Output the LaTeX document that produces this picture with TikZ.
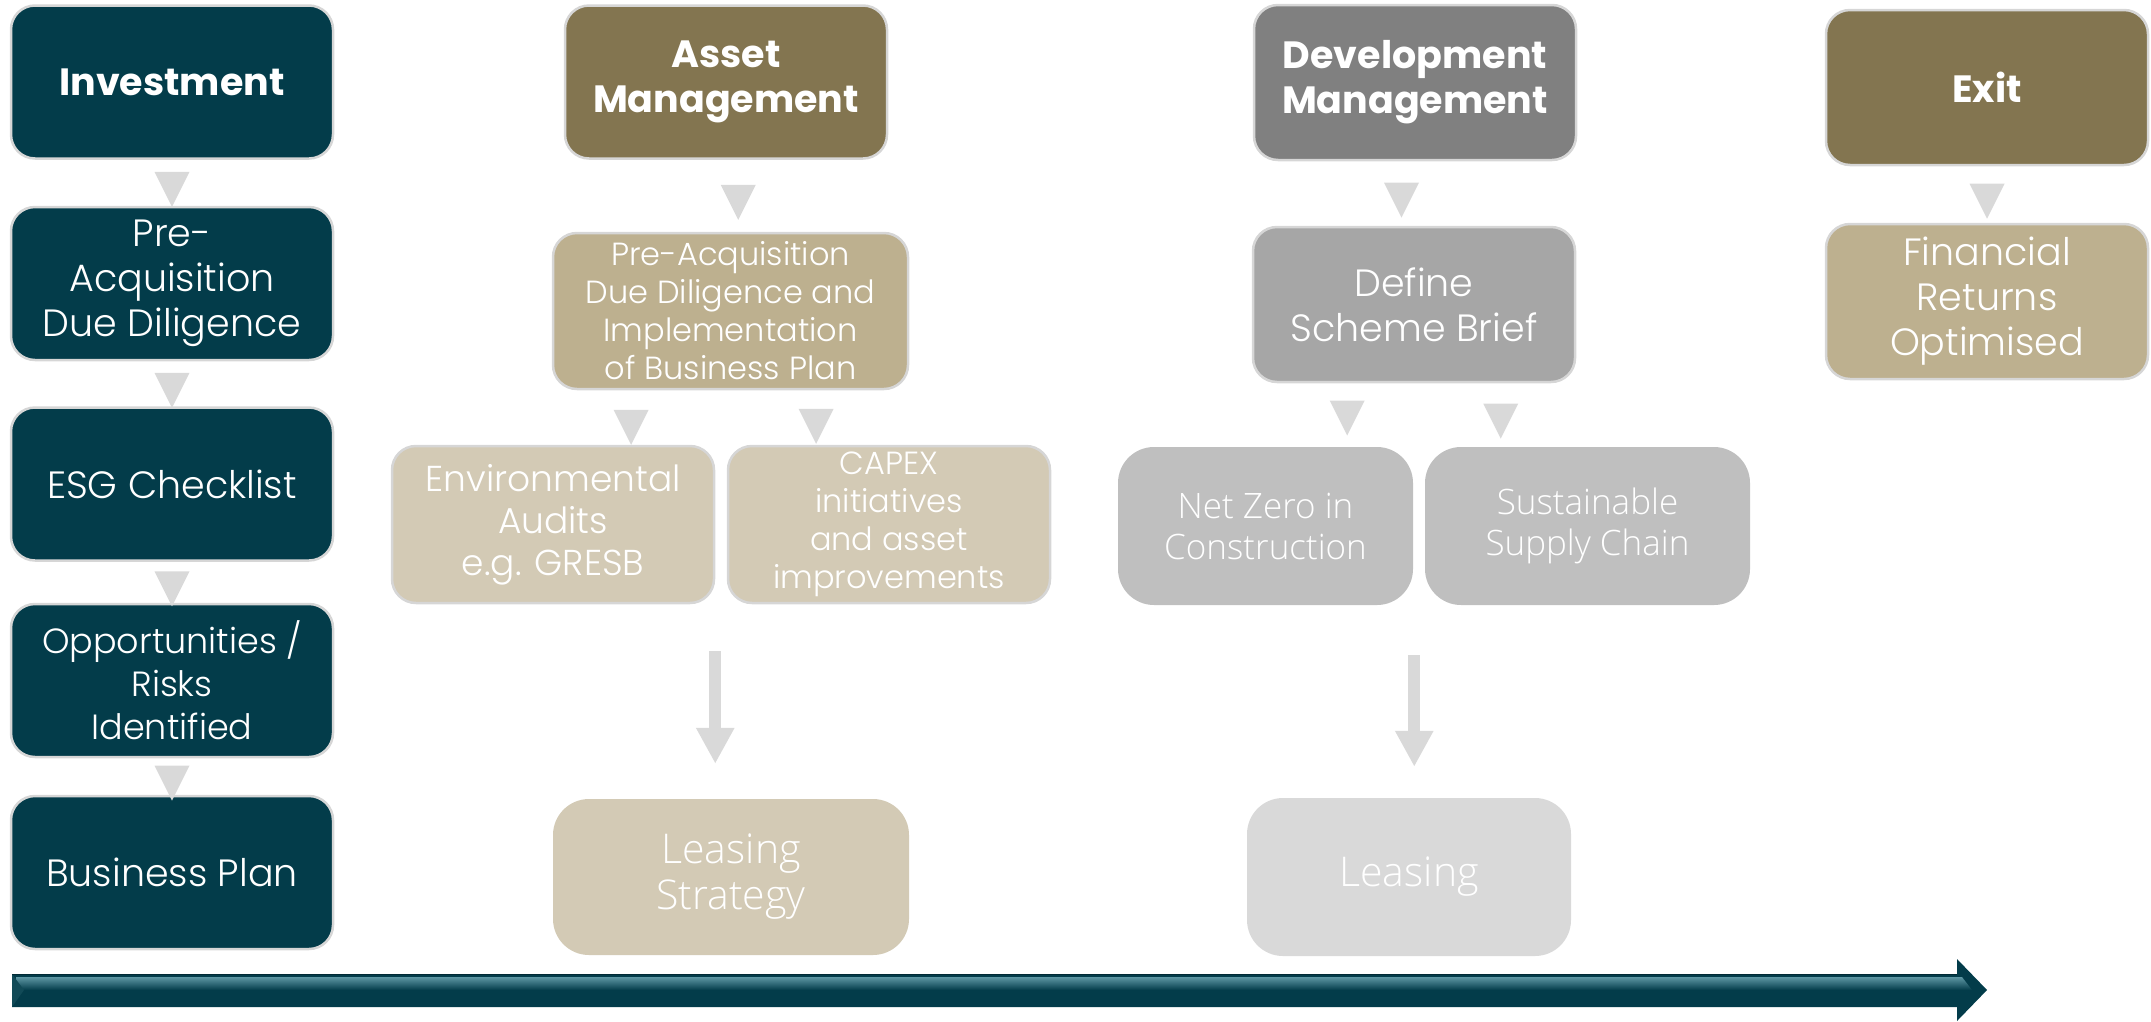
\documentclass[tikz,border=0pt]{standalone}
\usepackage{fontspec}
\setmainfont{Poppins}[UprightFont={* Light}, BoldFont={* Bold}]
\newfontfamily\plainsans{Open Sans Light}
\usepackage{xcolor}
\usetikzlibrary{arrows.meta,shapes.geometric,calc}

\definecolor{invteal}{HTML}{033C4A}
\definecolor{arrowhi}{HTML}{5E97A4}
\definecolor{amdark}{HTML}{837550}
\definecolor{amlight}{HTML}{BDB08F}
\definecolor{ampale}{HTML}{D3CAB5}
\definecolor{dmdark}{HTML}{808080}
\definecolor{dmmid}{HTML}{A6A6A6}
\definecolor{dmlight}{HTML}{BFBFBF}
\definecolor{trigray}{HTML}{D9D9D9}
\definecolor{edge}{HTML}{D6D6D6}

\begin{document}
\begin{tikzpicture}[x=1pt, y=-1pt,
    box/.style={rounded corners=24pt, draw=edge, line width=2.5pt,
        minimum width=322pt, minimum height=153pt, inner sep=0pt,
        align=center, text=white, font=\fontsize{38}{45}\selectfont},
    small/.style={font=\fontsize{32}{38}\selectfont},
    medium/.style={font=\fontsize{36}{42}\selectfont},
    title/.style={font=\fontsize{38}{45}\selectfont\bfseries},
    flat/.style={box, draw=none, rounded corners=36pt,
        font=\fontsize{35}{41}\selectfont\plainsans},
    big/.style={font=\fontsize{41}{46}\selectfont\plainsans},
    tri/.style={isosceles triangle, isosceles triangle stretches,
        shape border rotate=270, minimum width=35pt, minimum height=35pt,
        inner sep=0pt, fill=trigray},
    bigdown/.style={draw=trigray, line width=12pt,
        -{Triangle[width=36pt, length=36pt]}}]
    \useasboundingbox (0,0) rectangle (2151,1021);

    % investment column
    \node[box, title, fill=invteal] (inv) at (172,82) {Investment};
    \node[box, fill=invteal] (pre) at (172,283.5) {Pre-\\Acquisition\\Due Diligence};
    \node[box, fill=invteal] (esg) at (172,484) {ESG Checklist};
    \node[box, fill=invteal, font=\fontsize{35}{43}\selectfont] (opp) at (172,680.5) {Opportunities /\\Risks\\Identified};
    \node[box, fill=invteal] (bp) at (172,872.5) {Business Plan};
    \foreach \a/\b in {inv/pre, pre/esg, esg/opp, opp/bp}
        \path (\a.south) -- (\b.north) node[tri, midway] {};

    % asset management
    \node[box, title, fill=amdark] (am) at (726,82) {Asset\\Management};
    \node[box, small, fill=amlight, minimum width=355pt, minimum height=156pt] (pad) at (730.5,311) {Pre-Acquisition\\Due Diligence and\\Implementation\\of Business Plan};
    \node[box, medium, fill=ampale, minimum height=157pt] (env) at (553,524.5) {Environmental\\Audits\\e.g. GRESB};
    \node[box, small, fill=ampale, minimum height=157pt] (capex) at (889,524.5) {CAPEX\\initiatives\\and asset\\improvements};
    \node[flat, big, fill=ampale, minimum width=356pt, minimum height=156pt] (ls) at (731,877) {Leasing\\Strategy};
    \path (am.south) -- (pad.north) node[tri, midway, xshift=10pt] {};
    \path (pad.south) -- (env.north) node[tri, pos=.56] {};
    \path (pad.south) -- (capex.north) node[tri, pos=.54] {};
    \coordinate (lsTop) at (env.south east |- ls.north);
    \draw[bigdown] ([yshift=-47pt]env.south east) -- ([yshift=34pt]lsTop);

    % development management
    \node[box, title, fill=dmdark, minimum height=155pt] (dm) at (1415,82.5) {Development\\Management};
    \node[box, fill=dmmid, minimum height=155pt] (dsb) at (1414,304.5) {Define\\Scheme Brief};
    \node[flat, fill=dmlight, minimum width=295pt, minimum height=158pt] (nz) at (1265.5,526) {Net Zero in\\Construction};
    \node[flat, fill=dmlight, minimum width=325pt, minimum height=158pt] (ssc) at (1587.5,526) {Sustainable\\Supply Chain};
    \node[flat, big, fill=trigray, minimum width=324pt, minimum height=158pt] (lease) at (1409,877) {Leasing};
    \path (dm.south) -- (dsb.north) node[tri, midway, xshift=-13pt] {};
    \path (dsb.south) -- (nz.north) node[tri, pos=.45] {};
    \path (dsb.south) -- (ssc.north) node[tri, pos=.5] {};
    \coordinate (leaseTop) at (nz.south east |- lease.north);
    \draw[bigdown] ([yshift=-49pt]nz.south east) -- ([yshift=30pt]leaseTop);

    % exit
    \node[box, title, fill=amdark, minimum height=155pt] (exit) at (1987,87.5) {Exit};
    \node[box, fill=amlight, minimum height=155pt] (fro) at (1987,301.5) {Financial\\Returns\\Optimised};
    \path (exit.south) -- (fro.north) node[tri, midway] {};

    % time line
    \fill[invteal] (12,974) -- (1957,974) -- (1957,959) -- (1987,990)
        -- (1957,1021) -- (1957,1007) -- (12,1007) -- cycle;
    \shade[top color=arrowhi, bottom color=invteal] (16,977) -- (1962,977)
        -- (1972,990) -- (16,990) -- cycle;
    \fill[invteal!85!arrowhi] (12,974) -- (24,990) -- (12,1007) -- cycle;
    \draw[invteal!70!black, line width=1pt] (12,974) -- (1957,974);
\end{tikzpicture}
\end{document}
